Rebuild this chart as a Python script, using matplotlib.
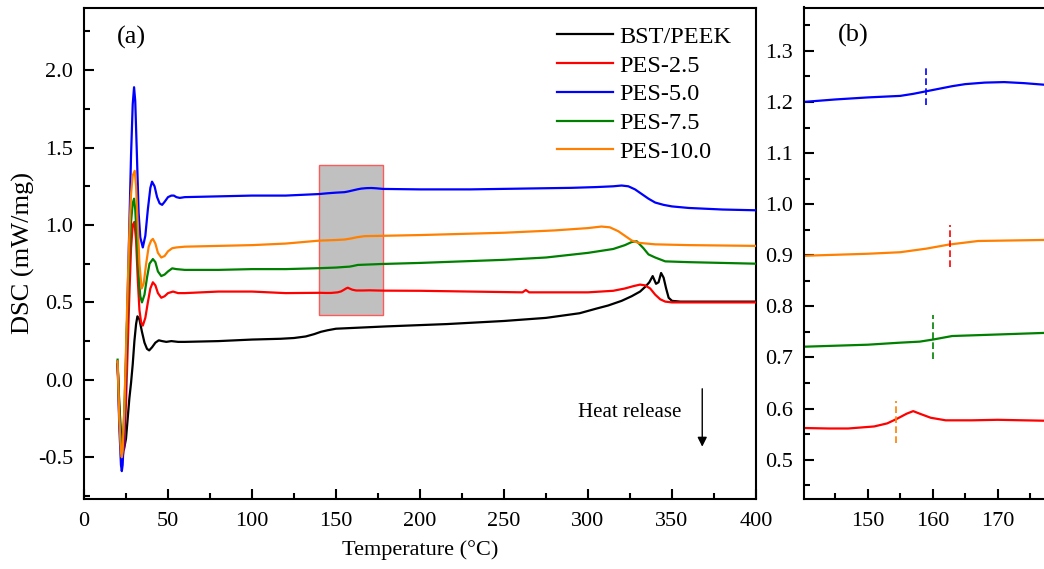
import numpy as np
import matplotlib
matplotlib.use('Agg')
import matplotlib.pyplot as plt
import matplotlib.patches as patches
from matplotlib.ticker import MultipleLocator, FixedLocator, FormatStrFormatter

plt.rcParams['font.family'] = ['Liberation Serif', 'DejaVu Serif']
plt.rcParams['mathtext.fontset'] = 'stix'

# BST/PEEK
t_peek = [20, 21, 22, 23, 23.8, 25, 26, 27, 28, 29, 30, 31, 31.8, 33, 34.5, 36, 37.5, 38.8, 40.5, 42.5,
          44.5, 46.5, 49, 52, 56, 60, 80, 100, 117, 125, 132, 137, 141, 145, 150, 160, 170, 180, 216,
          250, 275, 295, 305, 312, 320, 326, 331, 334, 336.5, 338.5, 340.5, 342, 343.5, 345, 346.5,
          348, 350, 355, 370, 400]
v_peek = [0.10, -0.15, -0.35, -0.44, -0.45, -0.38, -0.25, -0.12, -0.02, 0.10, 0.25, 0.36, 0.41, 0.39,
          0.31, 0.24, 0.20, 0.19, 0.21, 0.24, 0.255, 0.25, 0.245, 0.25, 0.245, 0.245, 0.25, 0.26,
          0.265, 0.27, 0.28, 0.295, 0.31, 0.32, 0.33, 0.335, 0.34, 0.345, 0.36, 0.38, 0.40, 0.43,
          0.46, 0.48, 0.51, 0.54, 0.57, 0.60, 0.63, 0.67, 0.62, 0.63, 0.69, 0.66, 0.59, 0.53, 0.51,
          0.505, 0.505, 0.505]

# PES-2.5
t_25 = [20, 21, 22, 23, 24, 25, 26, 27, 28, 29, 30, 31, 32, 33, 34, 35, 36.5, 38, 39.5, 41, 42.5, 44,
        46, 48, 50, 53, 56, 60, 80, 100, 120, 140, 144, 147, 151, 153, 154.5, 156, 157, 158, 159.7,
        162, 166, 170, 178, 200, 230, 261, 263, 265, 280, 300, 315, 322, 327, 331, 334, 337, 340, 343,
        346, 350, 370, 400]
v_25 = [0.10, -0.25, -0.45, -0.50, -0.42, -0.15, 0.20, 0.55, 0.85, 1.00, 1.02, 0.90, 0.65, 0.45,
        0.37, 0.35, 0.40, 0.50, 0.59, 0.63, 0.61, 0.56, 0.53, 0.54, 0.56, 0.57, 0.56, 0.56, 0.57,
        0.57, 0.56, 0.562, 0.561, 0.561, 0.565, 0.571, 0.580, 0.590, 0.595, 0.590, 0.582, 0.577,
        0.577, 0.578, 0.576, 0.575, 0.57, 0.565, 0.58, 0.565, 0.565, 0.565, 0.575, 0.59, 0.605,
        0.615, 0.61, 0.59, 0.55, 0.52, 0.505, 0.50, 0.50, 0.50]

# PES-5.0
t_50 = [20, 21, 22, 22.5, 23, 24, 25, 26, 27, 28, 29, 29.8, 30.5, 31.5, 32.5, 33.5, 35, 36.5, 38,
        39.5, 40.5, 42, 43.5, 45, 46.5, 48, 50, 52, 53.5, 55, 57, 60, 80, 100, 120, 140, 145, 150,
        155, 157, 159, 161, 163, 165, 168, 171, 174, 178, 200, 230, 260, 290, 305, 315, 320, 324,
        328, 332, 336, 340, 345, 350, 360, 380, 400]
v_50 = [0.12, -0.30, -0.55, -0.59, -0.55, -0.30, 0.10, 0.55, 1.00, 1.45, 1.78, 1.89, 1.80, 1.45,
        1.08, 0.92, 0.855, 0.93, 1.10, 1.24, 1.28, 1.25, 1.18, 1.14, 1.13, 1.15, 1.18, 1.19, 1.19,
        1.18, 1.175, 1.18, 1.185, 1.19, 1.19, 1.20, 1.205, 1.209, 1.212, 1.216, 1.221, 1.226,
        1.231, 1.235, 1.238, 1.239, 1.237, 1.233, 1.23, 1.23, 1.235, 1.24, 1.245, 1.25, 1.255,
        1.25, 1.23, 1.20, 1.17, 1.145, 1.13, 1.12, 1.11, 1.10, 1.095]

# PES-7.5
t_75 = [20, 21, 22, 22.5, 23, 24, 25, 26, 27, 28, 29, 29.8, 30.5, 31.5, 32.5, 33.5, 34.5, 36, 37.5,
        39, 41, 42.5, 44, 46, 48, 50, 52.5, 55, 60, 80, 100, 120, 140, 150, 155, 158, 160, 163, 170,
        177, 200, 250, 275, 300, 315, 322, 326, 329, 333, 336, 340, 346, 360, 400]
v_75 = [0.13, -0.20, -0.42, -0.45, -0.42, -0.20, 0.15, 0.50, 0.80, 1.02, 1.14, 1.17, 1.10, 0.90,
        0.68, 0.54, 0.50, 0.55, 0.66, 0.75, 0.78, 0.76, 0.70, 0.67, 0.68, 0.70, 0.72, 0.715, 0.71,
        0.71, 0.715, 0.715, 0.721, 0.725, 0.729, 0.731, 0.735, 0.742, 0.745, 0.748, 0.755, 0.775,
        0.79, 0.82, 0.845, 0.87, 0.89, 0.895, 0.85, 0.81, 0.79, 0.765, 0.76, 0.75]

# PES-10.0
t_100 = [20, 21, 22, 22.5, 23, 24, 25, 26, 27, 28, 29, 30.2, 31, 32, 33, 34.3, 35.5, 37, 38.5, 40,
         41, 42.5, 44, 46, 48, 50, 52.5, 55, 60, 80, 100, 120, 140, 150, 155, 159, 162.5, 167,
         177, 200, 250, 280, 300, 308, 313, 318, 322, 326, 330, 340, 360, 400]
v_100 = [0.12, -0.25, -0.47, -0.50, -0.46, -0.20, 0.20, 0.60, 0.95, 1.20, 1.32, 1.35, 1.25, 1.00,
         0.75, 0.59, 0.62, 0.75, 0.86, 0.90, 0.91, 0.88, 0.82, 0.79, 0.80, 0.83, 0.85, 0.855, 0.86,
         0.865, 0.87, 0.88, 0.899, 0.903, 0.906, 0.913, 0.921, 0.928, 0.930, 0.935, 0.95, 0.965,
         0.98, 0.99, 0.985, 0.96, 0.93, 0.90, 0.885, 0.875, 0.87, 0.865]

labels = ['BST/PEEK', 'PES-2.5', 'PES-5.0', 'PES-7.5', 'PES-10.0']
colors = ['black', 'red', 'blue', 'green', '#ff8000']
temps = [t_peek, t_25, t_50, t_75, t_100]
values = [v_peek, v_25, v_50, v_75, v_100]

# dashed marks in panel (b): temperature, low, high, colour
mark_t = [159.0, 162.6, 160.0, 154.3]
mark_lo = [1.195, 0.877, 0.697, 0.532]
mark_hi = [1.268, 0.960, 0.783, 0.615]
mark_c = ['blue', 'red', 'green', '#ff8000']

fig = plt.figure(figsize=(10.44, 5.69), dpi=100)
ax1 = fig.add_axes([84/1044, 70/569, 672/1044, 491.5/569])
ax2 = fig.add_axes([804/1044, 70/569, 260/1044, 491.5/569])

for t, v, c, lab in zip(temps, values, colors, labels):
    ax1.plot(t, v, color=c, lw=1.6, label=lab, zorder=3)

rect = patches.Rectangle((140, 0.42), 38, 0.967, facecolor='#c0c0c0',
                         edgecolor='#ff5a5a', lw=1.0, zorder=2)
ax1.add_patch(rect)

ax1.set_xlim(0, 400)
ax1.set_ylim(-0.77, 2.405)
ax1.xaxis.set_major_locator(MultipleLocator(50))
ax1.xaxis.set_minor_locator(MultipleLocator(25))
ax1.yaxis.set_major_locator(MultipleLocator(0.5))
ax1.yaxis.set_minor_locator(MultipleLocator(0.25))
ax1.yaxis.set_major_formatter(FormatStrFormatter('%.1f'))
ax1.set_xlabel('Temperature (°C)', fontsize=16, labelpad=7)
ax1.set_ylabel('DSC (mW/mg)', fontsize=19, labelpad=2)

ax1.text(19.5, 2.21, '(a)', fontsize=19, va='center', ha='left')
ax1.text(325, -0.21, 'Heat release', fontsize=15, va='center', ha='center')
ax1.annotate('', xy=(368, -0.45), xytext=(368, -0.04),
             arrowprops=dict(arrowstyle='-|>', color='black', lw=1.0, mutation_scale=14))

ax1.legend(loc='upper left', bbox_to_anchor=(0.704, 0.963), frameon=False, fontsize=17.5,
           handlelength=2.3, handletextpad=0.25, labelspacing=0.28, borderpad=0, borderaxespad=0)

# panel (b): zoom of shaded region
for t, v, c in zip(temps[1:], values[1:], colors[1:]):
    ax2.plot(t, v, color=c, lw=1.6)
for mt, lo, hi, c in zip(mark_t, mark_lo, mark_hi, mark_c):
    ax2.plot([mt, mt], [lo, hi], color=c, lw=1.2, ls=(0, (4, 2)))

ax2.set_xlim(140.2, 180.2)
ax2.set_ylim(0.423, 1.385)
ax2.xaxis.set_major_locator(FixedLocator([150, 160, 170]))
ax2.xaxis.set_minor_locator(FixedLocator([145, 155, 165, 175]))
ax2.yaxis.set_major_locator(MultipleLocator(0.1))
ax2.yaxis.set_minor_locator(MultipleLocator(0.05))
ax2.yaxis.set_major_formatter(FormatStrFormatter('%.1f'))
ax2.text(145.4, 1.33, '(b)', fontsize=19, va='center', ha='left')

for ax in (ax1, ax2):
    for sp in ax.spines.values():
        sp.set_linewidth(1.5)
    ax.tick_params(which='both', direction='in', top=False, right=False, width=1.5,
                   labelsize=16)
    ax.tick_params(which='major', length=7)
    ax.tick_params(which='minor', length=4)
    ax.tick_params(axis='x', which='major', pad=9)
    ax.tick_params(axis='y', which='major', pad=8)

fig.savefig('out.png', dpi=100)
